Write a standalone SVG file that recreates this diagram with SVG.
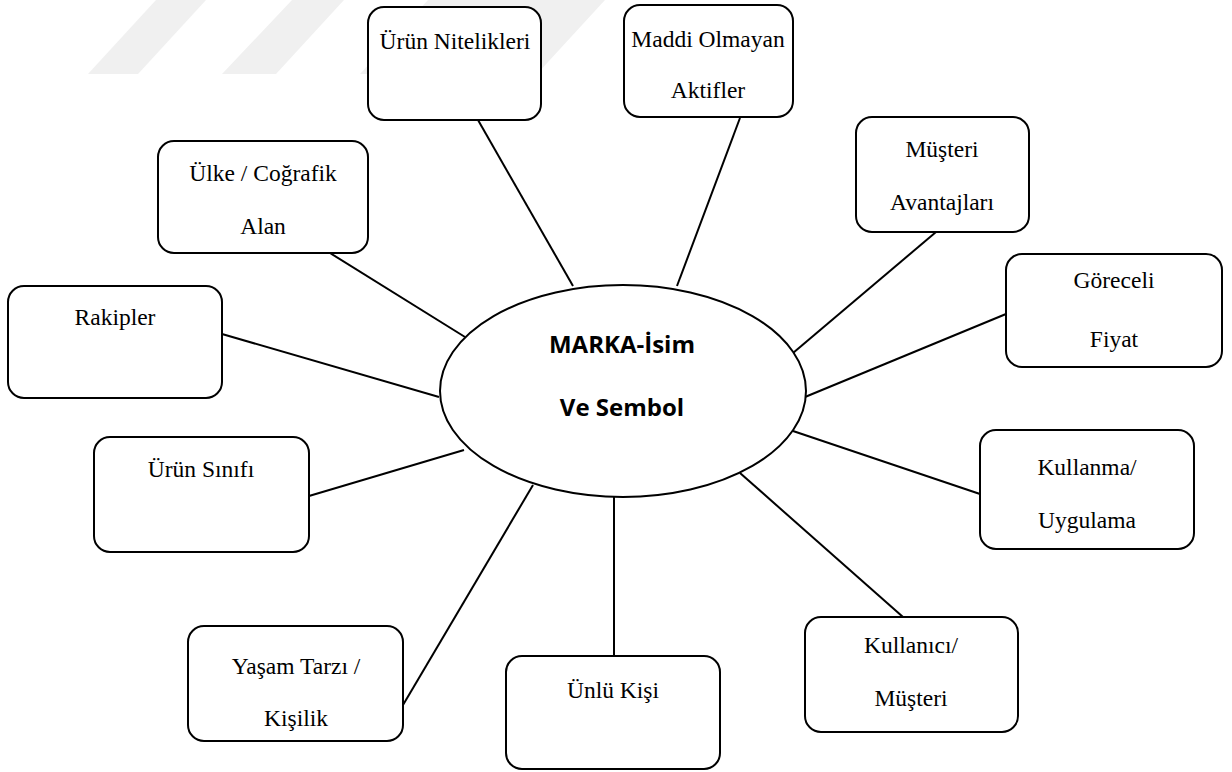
<svg xmlns="http://www.w3.org/2000/svg" width="1232" height="772" viewBox="0 0 1232 772">
<style>
.box{fill:#fff;stroke:#000;stroke-width:2}
.lbl{font-size:23.5px;fill:#000;text-anchor:middle}
.ctr{font-size:24px;font-weight:700;fill:#000;text-anchor:middle}
.wm{fill:#f0f0f0}
#connectors line{stroke:#000;stroke-width:2}
</style>
<rect width="1232" height="772" fill="#fff"/>
<g id="watermark">
<polygon class="wm" points="88,74 138,74 206,0 156,0"/>
<polygon class="wm" points="222,74 276,74 344,0 292,0"/>
<polygon class="wm" points="360,74 537,74 605,0 428,0"/>
</g>
<g id="connectors">
<line x1="478" y1="120" x2="573" y2="286"/>
<line x1="740" y1="118" x2="677" y2="286"/>
<line x1="936" y1="232" x2="793" y2="353"/>
<line x1="1006" y1="314" x2="805" y2="397"/>
<line x1="980" y1="494" x2="793" y2="431"/>
<line x1="903" y1="617" x2="740" y2="473"/>
<line x1="614" y1="656" x2="614" y2="497"/>
<line x1="403" y1="705" x2="533" y2="485"/>
<line x1="309" y1="496" x2="464" y2="450"/>
<line x1="222" y1="334" x2="439" y2="397"/>
<line x1="330" y1="253" x2="465" y2="337"/>
</g>
<g id="center" font-family="'Open Sans', 'Liberation Sans', sans-serif">
<ellipse cx="623" cy="391" rx="183" ry="106" fill="#fff" stroke="#000" stroke-width="2"/>
<text class="ctr" x="622" y="353">MARKA-İsim</text>
<text class="ctr" x="622" y="416">Ve Sembol</text>
</g>
<g id="nodes" font-family="'Liberation Serif', 'Times New Roman', Times, serif">
<g id="urun-nitelikleri">
<rect class="box" x="368" y="7" width="173" height="113" rx="16"/>
<text class="lbl" x="455" y="49">Ürün Nitelikleri</text>
</g>
<g id="maddi-olmayan">
<rect class="box" x="624" y="5" width="169" height="112" rx="16"/>
<text class="lbl" x="708" y="47">Maddi Olmayan</text>
<text class="lbl" x="708" y="98">Aktifler</text>
</g>
<g id="musteri-avantajlari">
<rect class="box" x="856" y="117" width="173" height="115" rx="16"/>
<text class="lbl" x="942" y="157">Müşteri</text>
<text class="lbl" x="942" y="210">Avantajları</text>
</g>
<g id="goreceli-fiyat">
<rect class="box" x="1006" y="254" width="216" height="113" rx="16"/>
<text class="lbl" x="1114" y="288">Göreceli</text>
<text class="lbl" x="1114" y="347">Fiyat</text>
</g>
<g id="kullanma">
<rect class="box" x="980" y="430" width="214" height="119" rx="16"/>
<text class="lbl" x="1087" y="475">Kullanma/</text>
<text class="lbl" x="1087" y="528">Uygulama</text>
</g>
<g id="kullanici">
<rect class="box" x="805" y="617" width="213" height="115" rx="16"/>
<text class="lbl" x="911" y="653">Kullanıcı/</text>
<text class="lbl" x="911" y="706">Müşteri</text>
</g>
<g id="unlu-kisi">
<rect class="box" x="506" y="656" width="214" height="113" rx="16"/>
<text class="lbl" x="613" y="698">Ünlü Kişi</text>
</g>
<g id="yasam-tarzi">
<rect class="box" x="188" y="626" width="215" height="115" rx="16"/>
<text class="lbl" x="296" y="674">Yaşam Tarzı /</text>
<text class="lbl" x="296" y="726">Kişilik</text>
</g>
<g id="urun-sinifi">
<rect class="box" x="94" y="437" width="215" height="115" rx="16"/>
<text class="lbl" x="201" y="477">Ürün Sınıfı</text>
</g>
<g id="rakipler">
<rect class="box" x="8" y="286" width="214" height="112" rx="16"/>
<text class="lbl" x="115" y="325">Rakipler</text>
</g>
<g id="ulke">
<rect class="box" x="158" y="141" width="210" height="112" rx="16"/>
<text class="lbl" x="263" y="181">Ülke / Coğrafik</text>
<text class="lbl" x="263" y="234">Alan</text>
</g>
</g>
</svg>
